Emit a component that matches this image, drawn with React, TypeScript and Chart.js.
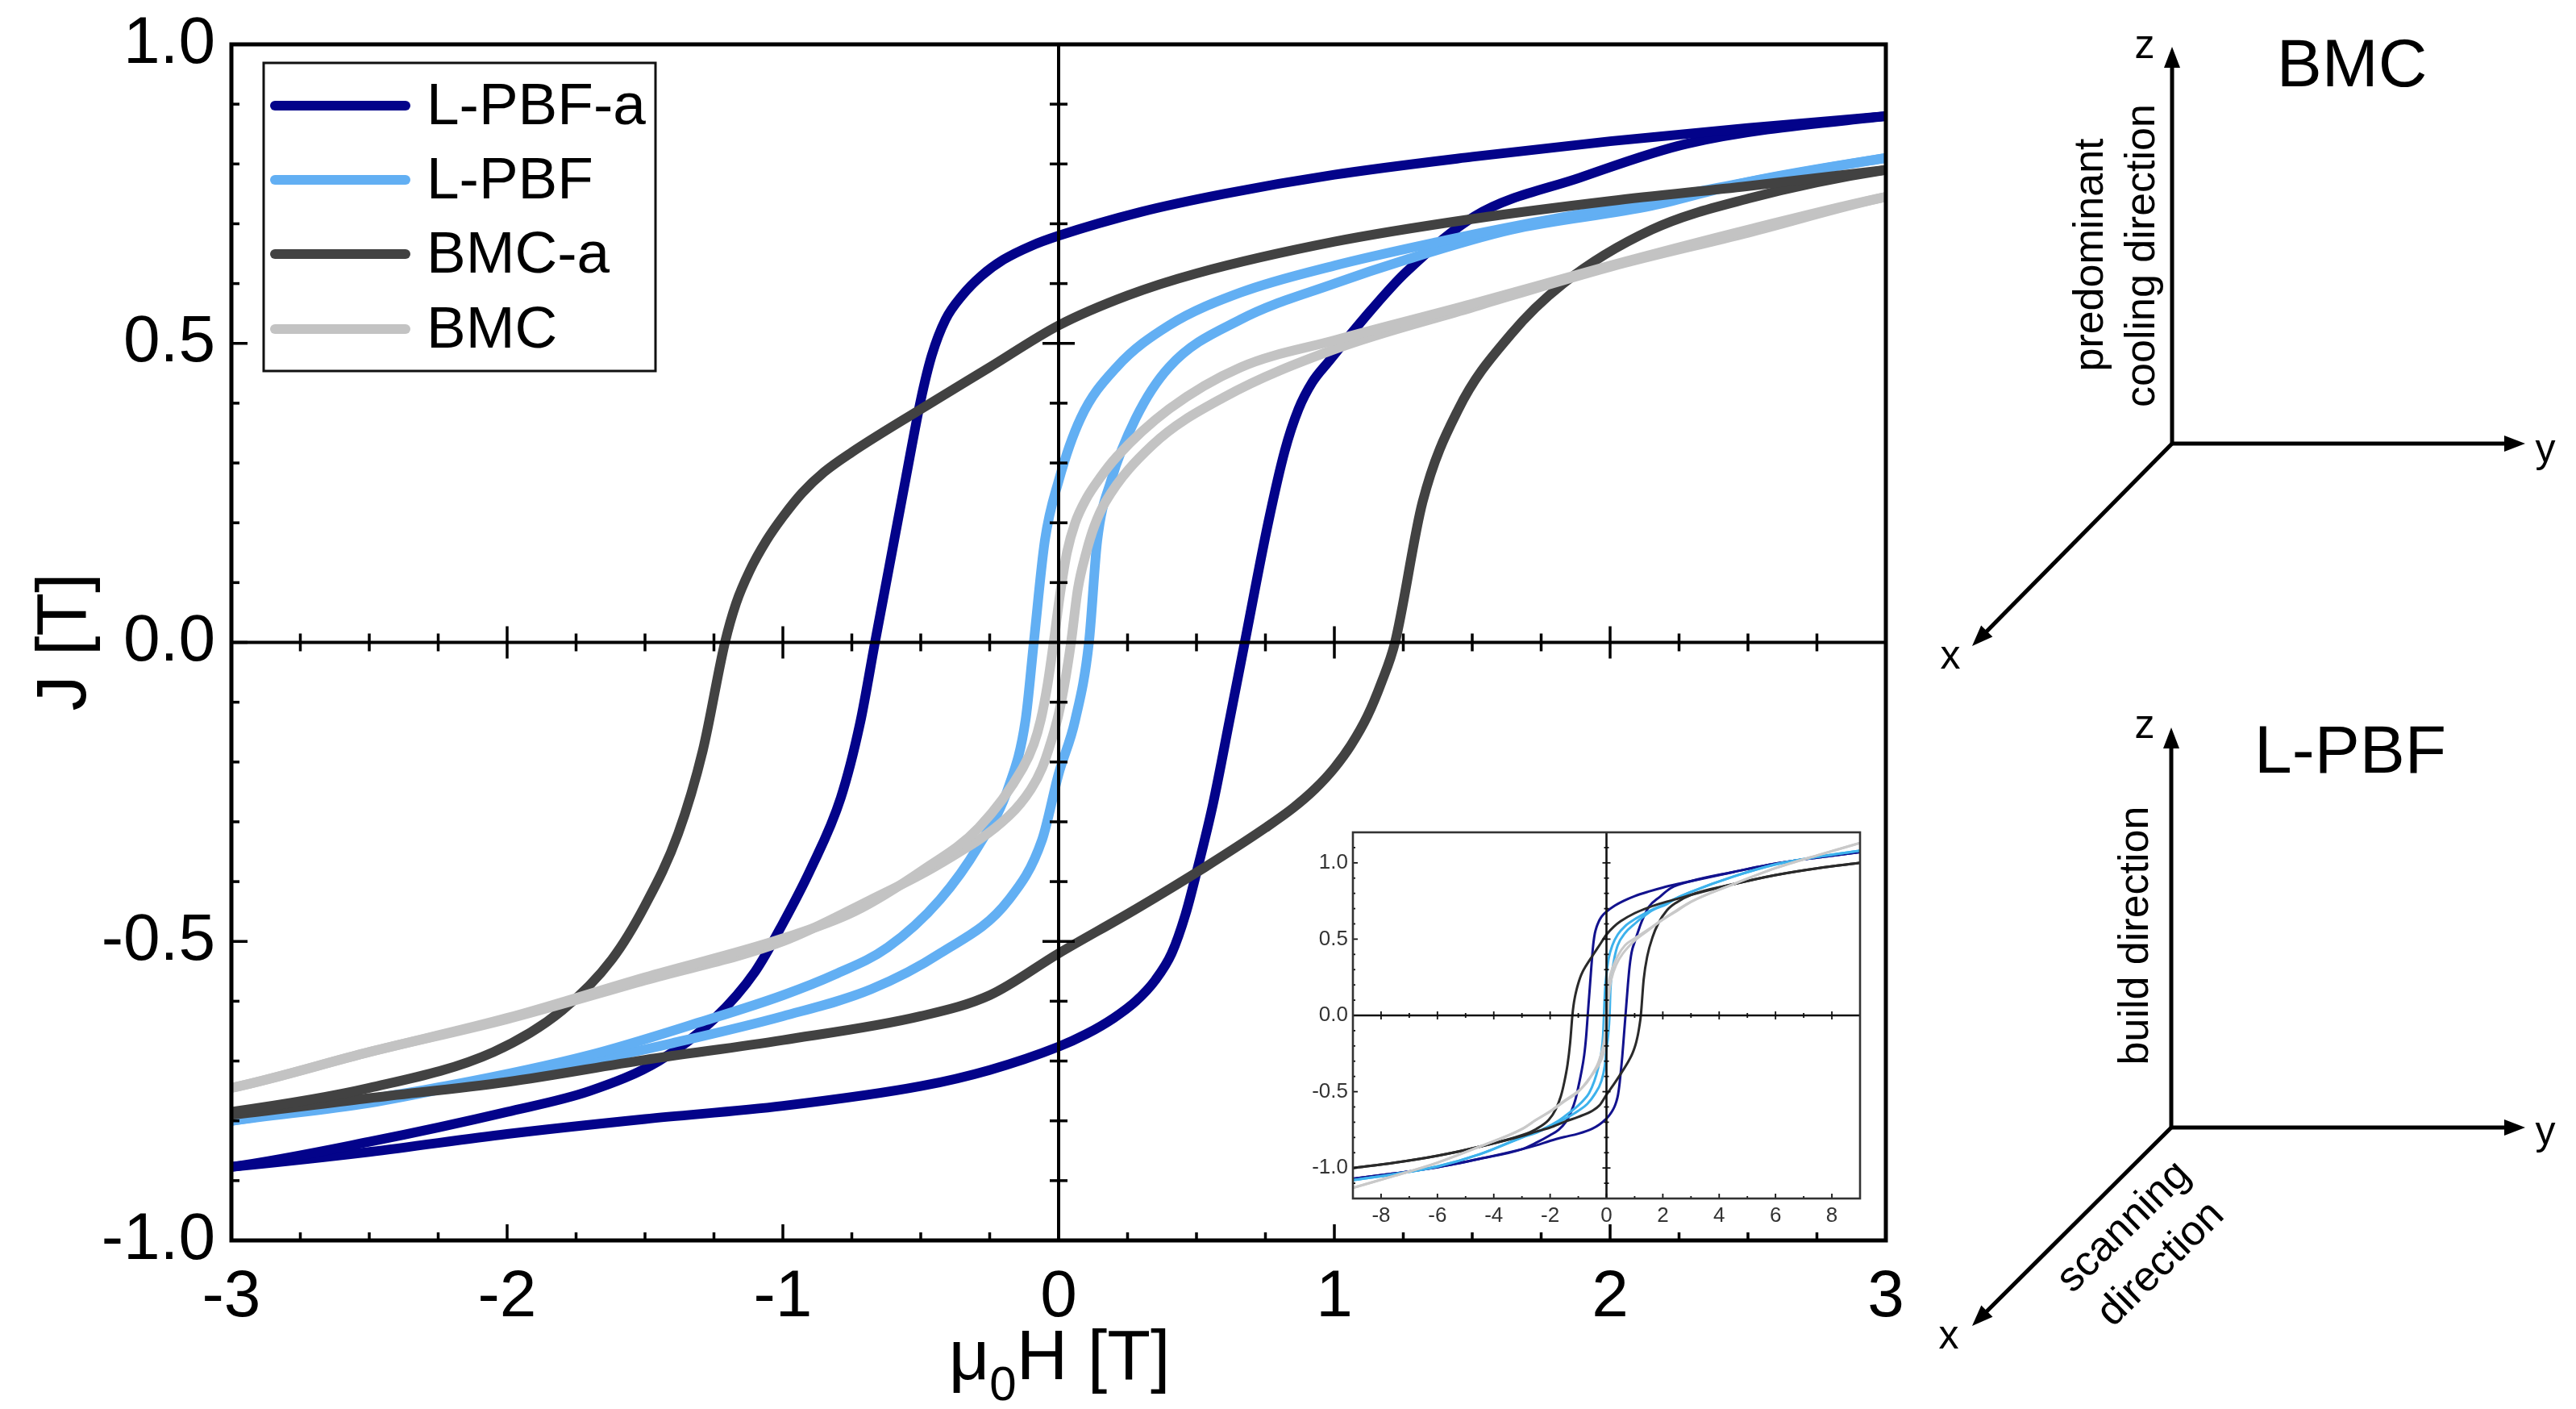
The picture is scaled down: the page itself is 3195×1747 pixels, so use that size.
import React, { useEffect, useRef } from 'react';
import { Chart, registerables } from 'chart.js';

Chart.register(...registerables);

type Pt = [number, number];

const FONT = '"Liberation Sans", Arimo, Arial, Helvetica, sans-serif';

// ---------- series ----------
const SERIES = ['L-PBF-a', 'L-PBF', 'BMC-a', 'BMC'];
const COLORS = ['#03038a', '#62aff3', '#424242', '#c3c3c3'];
const INSET_COLORS = ['#12128e', '#3db2ec', '#2a2a2a', '#c9c9c9'];

// ---------- tick labels ----------
const MAIN_X_TICKS = [-3, -2, -1, 0, 1, 2, 3];
const MAIN_Y_TICKS = [-1, -0.5, 0, 0.5, 1];
const INSET_X_TICKS = [-8, -6, -4, -2, 0, 2, 4, 6, 8];
const INSET_Y_TICKS = [-1, -0.5, 0, 0.5, 1];

// ---------- data: [mu0H (T), J (T)] ----------
// L-PBF-a
const LPBF_A_DESC: Pt[] = [
  [9, 1.07], [7.5, 1.035], [6, 0.995], [4.5, 0.94], [3, 0.88], [2.5, 0.86], [2, 0.838], [1.5, 0.812],
  [1, 0.782], [0.6, 0.75], [0.3, 0.72], [0, 0.68], [-0.1, 0.663], [-0.2, 0.64], [-0.28, 0.613],
  [-0.35, 0.58], [-0.41, 0.54], [-0.46, 0.48], [-0.5, 0.405], [-0.554, 0.275], [-0.617, 0.12],
  [-0.666, 0.0], [-0.72, -0.135], [-0.79, -0.26], [-0.9, -0.38], [-1.0, -0.47], [-1.1, -0.55],
  [-1.25, -0.63], [-1.45, -0.7], [-1.7, -0.75], [-2.0, -0.785], [-2.5, -0.835], [-3, -0.877],
  [-4.5, -0.94], [-6, -0.995], [-7.5, -1.035], [-9, -1.07],
];
const LPBF_A_ASC: Pt[] = [
  [-9, -1.07], [-7.5, -1.035], [-6, -0.995], [-4.5, -0.94], [-3, -0.877], [-2.5, -0.852], [-2, -0.822],
  [-1.5, -0.797], [-1, -0.775], [-0.5, -0.742], [-0.25, -0.715], [0, -0.676], [0.1, -0.655],
  [0.2, -0.628], [0.28, -0.6], [0.35, -0.565], [0.41, -0.52], [0.46, -0.455], [0.5, -0.385],
  [0.56, -0.27], [0.62, -0.13], [0.675, 0.0], [0.76, 0.2], [0.82, 0.32], [0.87, 0.39], [0.92, 0.435],
  [0.98, 0.47], [1.05, 0.51], [1.13, 0.554], [1.255, 0.617], [1.51, 0.713], [1.89, 0.777],
  [2.28, 0.834], [3, 0.88], [4.5, 0.94], [6, 0.995], [7.5, 1.035], [9, 1.07],
];
// L-PBF
const LPBF_DESC: Pt[] = [
  [9, 1.08], [7.5, 1.04], [6, 0.99], [4.5, 0.91], [3, 0.81], [2.5, 0.77], [2, 0.725], [1.7, 0.7],
  [1.38, 0.67], [1.0, 0.63], [0.66, 0.585], [0.4, 0.53], [0.21, 0.46], [0.08, 0.375], [0.0, 0.27],
  [-0.05, 0.17], [-0.09, 0.0], [-0.12, -0.13], [-0.18, -0.24], [-0.29, -0.34], [-0.43, -0.43],
  [-0.62, -0.51], [-0.81, -0.555], [-1.0, -0.59], [-1.3, -0.635], [-1.7, -0.69], [-2.2, -0.74],
  [-3, -0.8], [-4.5, -0.91], [-6, -0.99], [-7.5, -1.04], [-9, -1.08],
];
const LPBF_ASC: Pt[] = [
  [-9, -1.08], [-7.5, -1.04], [-6, -0.99], [-4.5, -0.91], [-3, -0.8], [-2.5, -0.77], [-2, -0.725],
  [-1.7, -0.7], [-1.4, -0.67], [-1.0, -0.625], [-0.68, -0.58], [-0.43, -0.52], [-0.18, -0.43],
  [-0.06, -0.33], [0.0, -0.22], [0.06, -0.13], [0.11, 0.0], [0.14, 0.17], [0.19, 0.27], [0.28, 0.375],
  [0.4, 0.46], [0.66, 0.54], [1.0, 0.6], [1.26, 0.64], [1.64, 0.69], [2.15, 0.73], [2.5, 0.77],
  [3, 0.81], [4.5, 0.91], [6, 0.99], [7.5, 1.04], [9, 1.08],
];
// BMC-a
const BMC_A_DESC: Pt[] = [
  [9, 1.0], [7.5, 0.965], [6, 0.92], [4.5, 0.86], [3, 0.79], [2.5, 0.763], [2, 0.738], [1.5, 0.708],
  [1, 0.67], [0.5, 0.617], [0.25, 0.58], [0, 0.53], [-0.25, 0.46], [-0.5, 0.39], [-0.75, 0.318],
  [-0.85, 0.285], [-0.93, 0.25], [-1.0, 0.21], [-1.06, 0.17], [-1.12, 0.12], [-1.17, 0.065],
  [-1.21, 0.0], [-1.29, -0.18], [-1.38, -0.32], [-1.5, -0.44], [-1.62, -0.53], [-1.8, -0.615],
  [-2.05, -0.685], [-2.5, -0.745], [-3, -0.785], [-4.5, -0.86], [-6, -0.92], [-7.5, -0.965], [-9, -1.0],
];
const BMC_A_ASC: Pt[] = [
  [-9, -1.0], [-7.5, -0.965], [-6, -0.92], [-4.5, -0.86], [-3, -0.79], [-2.5, -0.762], [-2, -0.735],
  [-1.5, -0.698], [-1, -0.665], [-0.5, -0.625], [-0.25, -0.59], [0, -0.52], [0.28, -0.446],
  [0.53, -0.376], [0.75, -0.31], [0.85, -0.277], [0.93, -0.245], [1.0, -0.21], [1.06, -0.172],
  [1.12, -0.123], [1.17, -0.068], [1.22, 0.0], [1.32, 0.235], [1.45, 0.39], [1.64, 0.515], [1.83, 0.6],
  [2.15, 0.69], [2.5, 0.742], [3, 0.79], [4.5, 0.86], [6, 0.92], [7.5, 0.965], [9, 1.0],
];
// BMC
const BMC_DESC: Pt[] = [
  [9, 1.13], [7.5, 1.05], [6, 0.965], [4.5, 0.86], [3, 0.745], [2.5, 0.69], [2, 0.63], [1.5, 0.566],
  [1.0, 0.505], [0.66, 0.46], [0.4, 0.39], [0.21, 0.31], [0.15, 0.275], [0.1, 0.24], [0.06, 0.2],
  [0.03, 0.15], [0.005, 0.08], [-0.018, 0.0], [-0.04, -0.07], [-0.065, -0.13], [-0.09, -0.17],
  [-0.13, -0.21], [-0.29, -0.31], [-0.49, -0.38], [-0.74, -0.45], [-1.0, -0.495], [-1.5, -0.56],
  [-2, -0.628], [-2.5, -0.685], [-3, -0.745], [-4.5, -0.86], [-6, -0.965], [-7.5, -1.05], [-9, -1.13],
];
const BMC_ASC: Pt[] = [
  [-9, -1.13], [-7.5, -1.05], [-6, -0.965], [-4.5, -0.86], [-3, -0.745], [-2.5, -0.685], [-2, -0.63],
  [-1.5, -0.565], [-1.0, -0.5], [-0.68, -0.43], [-0.43, -0.37], [-0.18, -0.29], [-0.1, -0.245],
  [-0.06, -0.21], [-0.03, -0.17], [0.0, -0.12], [0.025, -0.06], [0.045, 0.0], [0.07, 0.09],
  [0.1, 0.15], [0.13, 0.195], [0.17, 0.235], [0.34, 0.33], [0.6, 0.41], [1.0, 0.49], [1.5, 0.56],
  [2, 0.628], [2.5, 0.685], [3, 0.745], [4.5, 0.86], [6, 0.965], [7.5, 1.05], [9, 1.13],
];

const BRANCHES: Pt[][][] = [
  [LPBF_A_DESC, LPBF_A_ASC],
  [LPBF_DESC, LPBF_ASC],
  [BMC_A_DESC, BMC_A_ASC],
  [BMC_DESC, BMC_ASC],
];
// dataset index 0 is painted last (on top) in Chart.js
const DRAW_ORDER = [3, 2, 1, 0];

function makeDatasets(colors: string[], width: number) {
  const out: any[] = [];
  DRAW_ORDER.forEach((s) => {
    BRANCHES[s].forEach((branch) => {
      out.push({
        label: SERIES[s],
        data: branch.map(([x, y]) => ({ x, y })),
        borderColor: colors[s],
        backgroundColor: colors[s],
        borderWidth: width,
        pointRadius: 0,
        pointHoverRadius: 0,
        fill: false,
        cubicInterpolationMode: 'monotone',
        borderJoinStyle: 'round',
        borderCapStyle: 'round',
        clip: 0,
      });
    });
  });
  return out;
}

function seg(ctx: CanvasRenderingContext2D, x1: number, y1: number, x2: number, y2: number) {
  ctx.beginPath();
  ctx.moveTo(x1, y1);
  ctx.lineTo(x2, y2);
  ctx.stroke();
}

const LEGEND_BOX = { left: 327, top: 78, right: 813, bottom: 460 };
const LEGEND_ROWS = [131, 223, 315, 408];

const mainDecor = {
  id: 'mainDecor',
  afterDatasetsDraw(chart: any) {
    const { ctx, chartArea: a } = chart;
    const sx = chart.scales.x;
    const sy = chart.scales.y;
    const x0 = sx.getPixelForValue(0);
    const y0 = sy.getPixelForValue(0);
    ctx.save();
    ctx.strokeStyle = '#000';
    ctx.lineCap = 'butt';
    // zero lines
    ctx.lineWidth = 4;
    seg(ctx, x0, a.top, x0, a.bottom);
    seg(ctx, a.left, y0, a.right, y0);
    // ticks
    ctx.lineWidth = 3.5;
    for (let i = -11; i <= 11; i++) {
      const px = sx.getPixelForValue(i / 4);
      const major = i % 4 === 0;
      if (i !== 0) {
        const h = major ? 20 : 11;
        seg(ctx, px, y0 - h, px, y0 + h);
      }
      seg(ctx, px, a.bottom, px, a.bottom - (major ? 20 : 10));
    }
    for (let i = -9; i <= 9; i++) {
      const py = sy.getPixelForValue(i / 10);
      const major = i % 5 === 0;
      if (i !== 0) {
        const h = major ? 20 : 11;
        seg(ctx, x0 - h, py, x0 + h, py);
      }
      seg(ctx, a.left, py, a.left + (major ? 20 : 10), py);
    }
    // frame
    ctx.lineWidth = 5;
    ctx.strokeRect(a.left, a.top, a.right - a.left, a.bottom - a.top);

    // legend
    ctx.fillStyle = '#fff';
    ctx.fillRect(LEGEND_BOX.left, LEGEND_BOX.top, LEGEND_BOX.right - LEGEND_BOX.left, LEGEND_BOX.bottom - LEGEND_BOX.top);
    ctx.lineWidth = 3;
    ctx.strokeStyle = '#111';
    ctx.strokeRect(LEGEND_BOX.left, LEGEND_BOX.top, LEGEND_BOX.right - LEGEND_BOX.left, LEGEND_BOX.bottom - LEGEND_BOX.top);
    ctx.font = `73px ${FONT}`;
    ctx.textAlign = 'left';
    ctx.textBaseline = 'middle';
    SERIES.forEach((name, i) => {
      const yy = LEGEND_ROWS[i];
      ctx.strokeStyle = COLORS[i];
      ctx.lineWidth = 12;
      ctx.lineCap = 'round';
      seg(ctx, 341, yy, 503, yy);
      ctx.fillStyle = '#000';
      ctx.fillText(name, 529, yy + 3);
    });

    // axis titles
    ctx.fillStyle = '#000';
    ctx.save();
    ctx.translate(82, 796);
    ctx.rotate(-Math.PI / 2);
    ctx.font = `88px ${FONT}`;
    ctx.textAlign = 'center';
    ctx.textBaseline = 'middle';
    ctx.fillText('J [T]', 0, 0);
    ctx.restore();

    const big = `88px ${FONT}`;
    const small = `60px ${FONT}`;
    ctx.font = big;
    const wMu = ctx.measureText('μ').width;
    const wRest = ctx.measureText('H [T]').width;
    ctx.font = small;
    const wSub = ctx.measureText('0').width;
    let xx = 1314 - (wMu + wSub + wRest) / 2;
    ctx.textAlign = 'left';
    ctx.textBaseline = 'alphabetic';
    ctx.font = big;
    ctx.fillText('μ', xx, 1710);
    xx += wMu;
    ctx.font = small;
    ctx.fillText('0', xx, 1736);
    xx += wSub;
    ctx.font = big;
    ctx.fillText('H [T]', xx, 1710);
    ctx.restore();
  },
};

const insetDecor = {
  id: 'insetDecor',
  afterDatasetsDraw(chart: any) {
    const { ctx, chartArea: a } = chart;
    const sx = chart.scales.x;
    const sy = chart.scales.y;
    const x0 = sx.getPixelForValue(0);
    const y0 = sy.getPixelForValue(0);
    ctx.save();
    ctx.strokeStyle = '#111';
    ctx.lineWidth = 2.6;
    seg(ctx, x0, a.top, x0, a.bottom);
    seg(ctx, a.left, y0, a.right, y0);
    ctx.lineWidth = 1.8;
    for (let i = -8; i <= 8; i++) {
      const px = sx.getPixelForValue(i);
      const major = i % 2 === 0;
      if (i !== 0) {
        const h = major ? 5 : 3;
        seg(ctx, px, y0 - h, px, y0 + h);
      }
      seg(ctx, px, a.bottom, px, a.bottom - (major ? 6 : 3));
    }
    for (let i = -11; i <= 11; i++) {
      const py = sy.getPixelForValue(i / 10);
      const major = i % 5 === 0;
      if (i !== 0) {
        const h = major ? 5 : 3;
        seg(ctx, x0 - h, py, x0 + h, py);
      }
      seg(ctx, a.left, py, a.left + (major ? 6 : 3), py);
    }
    ctx.lineWidth = 2.6;
    ctx.strokeStyle = '#333';
    ctx.strokeRect(a.left, a.top, a.right - a.left, a.bottom - a.top);
    ctx.restore();
  },
};

function scaleOpts(
  min: number,
  max: number,
  ticks: number[],
  fmt: (v: number) => string,
  size: number,
  pad: number,
  dim: { width?: number; height?: number },
  color: string,
) {
  return {
    type: 'linear',
    min,
    max,
    afterBuildTicks: (s: any) => {
      s.ticks = ticks.map((value) => ({ value }));
    },
    afterFit: (s: any) => {
      if (dim.width !== undefined) s.width = dim.width;
      if (dim.height !== undefined) s.height = dim.height;
      s.paddingTop = 0;
      s.paddingBottom = 0;
      s.paddingLeft = 0;
      s.paddingRight = 0;
    },
    grid: { display: false, drawTicks: false },
    border: { display: false },
    ticks: {
      autoSkip: false,
      maxRotation: 0,
      minRotation: 0,
      padding: pad,
      color,
      font: { family: FONT, size },
      callback: (v: any) => fmt(Number(v)),
    },
  };
}

function Arrow({ x1, y1, x2, y2 }: { x1: number; y1: number; x2: number; y2: number }) {
  const dx = x2 - x1;
  const dy = y2 - y1;
  const len = Math.hypot(dx, dy);
  const ux = dx / len;
  const uy = dy / len;
  const L = 26;
  const W = 10;
  const bx = x2 - ux * L;
  const by = y2 - uy * L;
  const pts = `${x2},${y2} ${bx - uy * W},${by + ux * W} ${bx + uy * W},${by - ux * W}`;
  return (
    <g>
      <line x1={x1} y1={y1} x2={bx + ux * 3} y2={by + uy * 3} stroke="#000" strokeWidth={5} />
      <polygon points={pts} fill="#000" />
    </g>
  );
}

export default function App() {
  const mainRef = useRef<HTMLCanvasElement>(null);
  const insetRef = useRef<HTMLCanvasElement>(null);

  useEffect(() => {
    document.body.style.margin = '0';
    const main = new Chart(mainRef.current as HTMLCanvasElement, {
      type: 'line',
      data: { datasets: makeDatasets(COLORS, 12) },
      options: {
        animation: false,
        responsive: false,
        maintainAspectRatio: false,
        devicePixelRatio: 1,
        events: [],
        layout: { padding: { left: 0, top: 55, right: 31, bottom: 0 } },
        plugins: { legend: { display: false }, tooltip: { enabled: false }, title: { display: false } },
        scales: {
          x: scaleOpts(-3, 3, MAIN_X_TICKS, (v) => String(v), 82, 22, { height: 209 }, '#000'),
          y: scaleOpts(-1, 1, MAIN_Y_TICKS, (v) => v.toFixed(1), 82, 20, { width: 287 }, '#000'),
        },
      } as any,
      plugins: [mainDecor],
    });
    const inset = new Chart(insetRef.current as HTMLCanvasElement, {
      type: 'line',
      data: { datasets: makeDatasets(INSET_COLORS, 3) },
      options: {
        animation: false,
        responsive: false,
        maintainAspectRatio: false,
        devicePixelRatio: 1,
        events: [],
        layout: { padding: { left: 0, top: 32, right: 23, bottom: 0 } },
        plugins: { legend: { display: false }, tooltip: { enabled: false }, title: { display: false } },
        scales: {
          x: scaleOpts(-9, 9, INSET_X_TICKS, (v) => String(v), 26, 6, { height: 54 }, '#333'),
          y: scaleOpts(-1.2, 1.2, INSET_Y_TICKS, (v) => v.toFixed(1), 26, 6, { width: 78 }, '#333'),
        },
      } as any,
      plugins: [insetDecor],
    });
    return () => {
      main.destroy();
      inset.destroy();
    };
  }, []);

  const txt = { fontFamily: FONT, fill: '#000' } as const;

  return (
    <div style={{ position: 'fixed', left: 0, top: 0, width: 3195, height: 1747, background: '#fff', overflow: 'hidden' }}>
      <canvas ref={mainRef} width={2370} height={1747} style={{ position: 'absolute', left: 0, top: 0, width: 2370, height: 1747 }} />
      <canvas ref={insetRef} width={730} height={540} style={{ position: 'absolute', left: 1600, top: 1000, width: 730, height: 540 }} />
      <svg width={825} height={1747} viewBox="2370 0 825 1747" style={{ position: 'absolute', left: 2370, top: 0 }}>
        {/* BMC frame */}
        <Arrow x1={2694} y1={550} x2={2694} y2={58} />
        <Arrow x1={2694} y1={550} x2={3132} y2={550} />
        <Arrow x1={2694} y1={550} x2={2446} y2={801} />
        <text x={2660} y={55} {...txt} fontSize={50} textAnchor="middle" dominantBaseline="central">z</text>
        <text x={3157} y={556} {...txt} fontSize={50} textAnchor="middle" dominantBaseline="central">y</text>
        <text x={2419} y={812} {...txt} fontSize={50} textAnchor="middle" dominantBaseline="central">x</text>
        <text x={2917} y={78} {...txt} fontSize={84} textAnchor="middle" dominantBaseline="central">BMC</text>
        <text transform="translate(2590,316) rotate(-90)" {...txt} fontSize={52} textAnchor="middle" dominantBaseline="central">predominant</text>
        <text transform="translate(2654,317) rotate(-90)" {...txt} fontSize={52} textAnchor="middle" dominantBaseline="central">cooling direction</text>

        {/* L-PBF frame */}
        <Arrow x1={2693} y1={1398} x2={2693} y2={902} />
        <Arrow x1={2693} y1={1398} x2={3132} y2={1398} />
        <Arrow x1={2693} y1={1398} x2={2446} y2={1644} />
        <text x={2660} y={898} {...txt} fontSize={50} textAnchor="middle" dominantBaseline="central">z</text>
        <text x={3157} y={1402} {...txt} fontSize={50} textAnchor="middle" dominantBaseline="central">y</text>
        <text x={2417} y={1655} {...txt} fontSize={50} textAnchor="middle" dominantBaseline="central">x</text>
        <text x={2915} y={929} {...txt} fontSize={84} textAnchor="middle" dominantBaseline="central">L-PBF</text>
        <text transform="translate(2646,1160) rotate(-90)" {...txt} fontSize={52} textAnchor="middle" dominantBaseline="central">build direction</text>
        <text transform="translate(2632,1519) rotate(-44.5)" {...txt} fontSize={52} textAnchor="middle" dominantBaseline="central">scanning</text>
        <text transform="translate(2678,1565) rotate(-44.5)" {...txt} fontSize={52} textAnchor="middle" dominantBaseline="central">direction</text>
      </svg>
    </div>
  );
}
